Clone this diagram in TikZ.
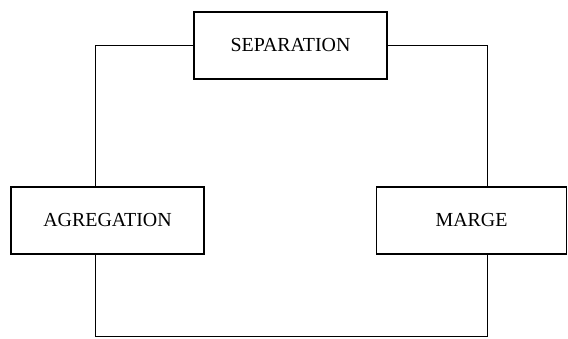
\documentclass[tikz,border=0pt]{standalone}
\usepackage{fontspec}
\setmainfont{Liberation Serif}
\usetikzlibrary{positioning}

\begin{document}
\begin{tikzpicture}[x=0.03cm, y=-0.03cm, line width=0.8pt,
  blockbox/.style={draw, line width=1.1pt, minimum height=2.01cm, inner sep=0pt,
    font=\fontsize{17}{20}\selectfont}]
\useasboundingbox (0,0) rectangle (568,338);

\node[blockbox, minimum width=5.79cm] (sep) at (290.5,45.5) {SEPARATION};
\node[blockbox, minimum width=5.79cm] (agr) at (107.5,220.5) {AGREGATION};
\node[blockbox, minimum width=5.7cm] (mar) at (471.5,220.5) {MARGE};

\coordinate (lx) at (95,0);
\coordinate (rx) at (487,0);
\coordinate (bot) at (0,336);

\draw (sep.west) -| (agr.north -| lx);
\draw (sep.east) -| (mar.north -| rx);
\draw (agr.south -| lx) |- (bot -| rx) -- (mar.south -| rx);
\end{tikzpicture}
\end{document}
